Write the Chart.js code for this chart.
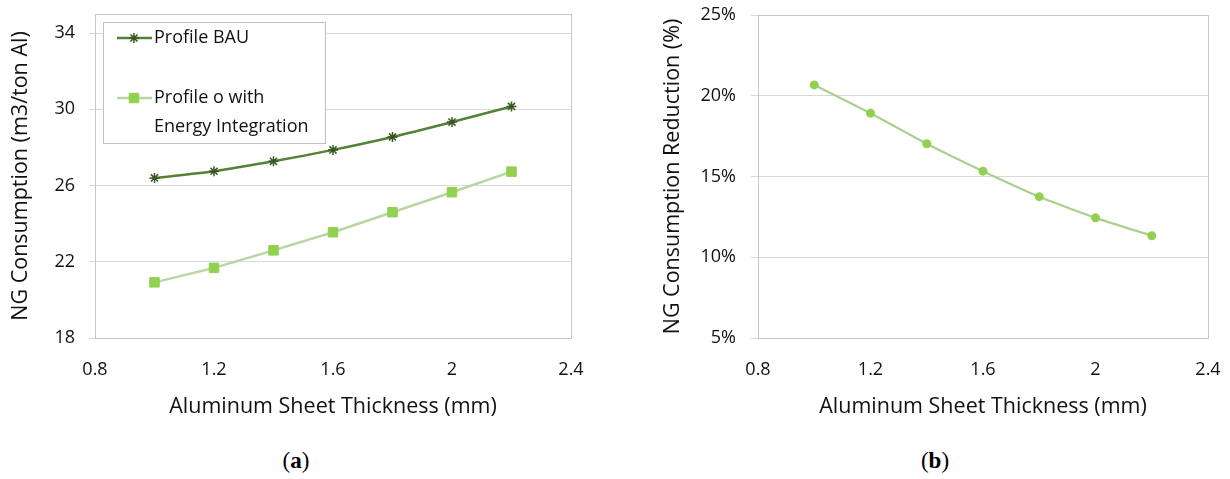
<!DOCTYPE html>
<html>
<head>
<meta charset="utf-8">
<script src="https://cdn.jsdelivr.net/npm/chart.js@4.4.1/dist/chart.umd.min.js"></script>
<style>
    body { margin: 0; background: #fff; }
    #page { position: relative; width: 1230px; height: 479px; overflow: hidden; }
    canvas { position: absolute; top: 0; }
    #graficoA { left: 0; }
    #graficoB { left: 620px; }
    .leyenda-panel {
        position: absolute;
        top: 448px;
        width: 80px;
        text-align: center;
        font-family: 'Liberation Serif', 'DejaVu Serif', serif;
        font-size: 23px;
        color: #000;
    }
</style>
</head>
<body>
<div id="page">
    <canvas id="graficoA" width="600" height="430"></canvas>
    <canvas id="graficoB" width="610" height="430"></canvas>
    <div class="leyenda-panel" style="left:256px">(<b>a</b>)</div>
    <div class="leyenda-panel" style="left:895px">(<b>b</b>)</div>
</div>
<script>
// datos
const espesores = [1.0, 1.2, 1.4, 1.6, 1.8, 2.0, 2.2];
const consumoBAU = [26.40, 26.75, 27.27, 27.87, 28.55, 29.33, 30.15];
const consumoIntegracion = [20.92, 21.68, 22.60, 23.55, 24.60, 25.65, 26.73];
const reduccionConsumo = [20.67, 18.92, 17.03, 15.33, 13.75, 12.44, 11.33];

const ticksEspesor = [0.8, 1.2, 1.6, 2.0, 2.4];
const ticksConsumo = [18, 22, 26, 30, 34];
const ticksReduccion = [5, 10, 15, 20, 25];

const etiquetaBAU = 'Profile BAU';
const etiquetaIntegracion = ['Profile o with', 'Energy Integration'];
const tituloEjeX = 'Aluminum Sheet Thickness (mm)';
const tituloEjeYA = 'NG Consumption (m3/ton Al)';
const tituloEjeYB = 'NG Consumption Reduction (%)';

const fuente = "'Open Sans', 'Noto Sans', sans-serif";
const colorTexto = '#111';
const colorRejilla = '#d9d9d9';
const colorMarco = '#c6c6c6';

function puntos(ys) {
    return espesores.map((x, i) => ({ x: x, y: ys[i] }));
}

function fijarTicks(valores) {
    return scale => { scale.ticks = valores.map(v => ({ value: v })); };
}

// marco gris alrededor del area de trazado
const marcoPlugin = {
    id: 'marco',
    beforeDatasetsDraw(chart) {
        const { ctx, chartArea } = chart;
        ctx.save();
        ctx.strokeStyle = colorMarco;
        ctx.lineWidth = 1;
        ctx.strokeRect(Math.round(chartArea.left) + 0.5, Math.round(chartArea.top) + 0.5,
            Math.round(chartArea.right - chartArea.left), Math.round(chartArea.bottom - chartArea.top));
        ctx.restore();
    }
};

// leyenda dentro del grafico, como en Excel
const leyendaPlugin = {
    id: 'leyendaCaja',
    afterDatasetsDraw(chart) {
        const { ctx, chartArea } = chart;
        const x0 = Math.round(chartArea.left) + 8;
        const y0 = Math.round(chartArea.top) + 8;
        ctx.save();
        ctx.fillStyle = '#fff';
        ctx.fillRect(x0, y0, 222, 121);
        ctx.strokeStyle = '#bfbfbf';
        ctx.lineWidth = 1;
        ctx.strokeRect(x0 + 0.5, y0 + 0.5, 222, 121);

        const filas = [16, 76];
        chart.data.datasets.forEach((ds, i) => {
            const y = y0 + filas[i];
            ctx.strokeStyle = ds.borderColor;
            ctx.lineWidth = ds.borderWidth;
            ctx.beginPath();
            ctx.moveTo(x0 + 14, y);
            ctx.lineTo(x0 + 49, y);
            ctx.stroke();

            ctx.fillStyle = ds.pointBackgroundColor;
            ctx.strokeStyle = ds.pointBorderColor;
            ctx.lineWidth = ds.pointBorderWidth;
            Chart.helpers.drawPoint(ctx, {
                pointStyle: ds.pointStyle,
                radius: ds.pointRadius,
                borderWidth: ds.pointBorderWidth,
                rotation: 0
            }, x0 + 31, y);

            ctx.fillStyle = colorTexto;
            ctx.font = '18px ' + fuente;
            ctx.textBaseline = 'middle';
            ctx.textAlign = 'left';
            const lineas = Array.isArray(ds.label) ? ds.label : [ds.label];
            lineas.forEach((t, j) => ctx.fillText(t, x0 + 51, y + j * 29));
        });
        ctx.restore();
    }
};

function ejeX() {
    return {
        type: 'linear',
        min: 0.8,
        max: 2.4,
        afterBuildTicks: fijarTicks(ticksEspesor),
        ticks: {
            padding: 13,
            color: colorTexto,
            font: { family: fuente, size: 18 },
            callback: v => String(Math.round(v * 10) / 10)
        },
        grid: { display: false },
        border: { display: false },
        title: {
            display: true,
            text: tituloEjeX,
            color: colorTexto,
            font: { family: fuente, size: 21.5 },
            padding: { top: 0, bottom: 10 }
        },
        afterFit: scale => {
            scale.height = 92;
            scale.paddingLeft = 0;
            scale.paddingRight = 0;
        }
    };
}

function ejeY(min, max, valores, titulo, opciones) {
    return {
        min: min,
        max: max,
        afterBuildTicks: fijarTicks(valores),
        ticks: {
            padding: opciones.pad,
            color: colorTexto,
            font: { family: fuente, size: 18 },
            callback: opciones.formato
        },
        grid: { color: colorRejilla, tickLength: opciones.marca },
        border: { display: false },
        title: {
            display: true,
            text: titulo,
            color: colorTexto,
            font: { family: fuente, size: 21.5 },
            padding: { top: opciones.tituloPad, bottom: 0 }
        },
        afterFit: scale => {
            scale.width = opciones.ancho;
            scale.paddingTop = 0;
            scale.paddingBottom = 0;
        }
    };
}

function crearGraficoA() {
    const ctx = document.getElementById('graficoA').getContext('2d');
    new Chart(ctx, {
        type: 'line',
        data: {
            datasets: [{
                label: etiquetaBAU,
                data: puntos(consumoBAU),
                borderColor: '#548235',
                borderWidth: 2.5,
                tension: 0.3,
                pointStyle: 'star',
                pointRadius: 5,
                pointBorderWidth: 1.5,
                pointBackgroundColor: '#385723',
                pointBorderColor: '#385723'
            }, {
                label: etiquetaIntegracion,
                data: puntos(consumoIntegracion),
                borderColor: '#b6d7a3',
                borderWidth: 2.5,
                tension: 0,
                pointStyle: 'rect',
                pointRadius: 6.7,
                pointBorderWidth: 1,
                pointBackgroundColor: '#92d050',
                pointBorderColor: '#92d050'
            }]
        },
        options: {
            responsive: false,
            animation: false,
            layout: { padding: { top: 14, right: 29, left: 0, bottom: 0 } },
            plugins: { legend: { display: false }, tooltip: { enabled: false } },
            scales: {
                x: ejeX(),
                y: ejeY(18, 35, ticksConsumo, tituloEjeYA,
                    { pad: 14, marca: 6, tituloPad: 8, ancho: 95, formato: v => String(v) })
            }
        },
        plugins: [marcoPlugin, leyendaPlugin]
    });
}

function crearGraficoB() {
    const ctx = document.getElementById('graficoB').getContext('2d');
    new Chart(ctx, {
        type: 'line',
        data: {
            datasets: [{
                label: 'NG Consumption Reduction',
                data: puntos(reduccionConsumo),
                borderColor: '#a9d18e',
                borderWidth: 2.2,
                tension: 0.15,
                pointStyle: 'circle',
                pointRadius: 4.5,
                pointBorderWidth: 0,
                pointBackgroundColor: '#92d050'
            }]
        },
        options: {
            responsive: false,
            animation: false,
            layout: { padding: { top: 15, right: 22, left: 0, bottom: 0 } },
            plugins: { legend: { display: false }, tooltip: { enabled: false } },
            scales: {
                x: ejeX(),
                y: ejeY(5, 25, ticksReduccion, tituloEjeYB,
                    { pad: 15, marca: 7, tituloPad: 40, ancho: 138, formato: v => v + '%' })
            }
        },
        plugins: [marcoPlugin]
    });
}

crearGraficoA();
crearGraficoB();
</script>
</body>
</html>
